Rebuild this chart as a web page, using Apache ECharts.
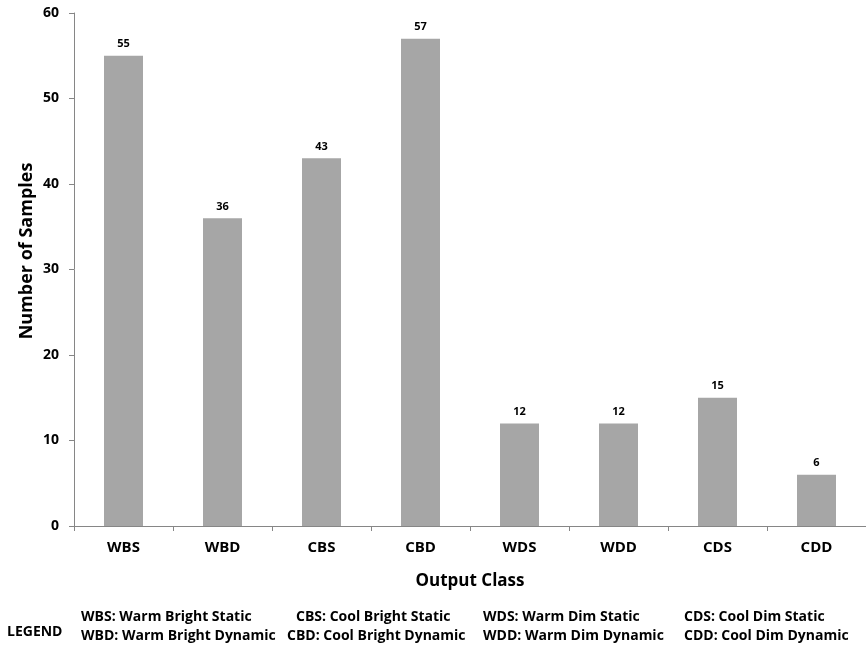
<!DOCTYPE html>
<html>
<head>
<meta charset="utf-8">
<script src="https://cdn.jsdelivr.net/npm/echarts@6/dist/echarts.min.js"></script>
<style>html,body{margin:0;padding:0;background:#fff}#c{width:866px;height:646px}</style>
</head>
<body>
<div id="c"></div>
<script>
var categories = ['WBS', 'WBD', 'CBS', 'CBD', 'WDS', 'WDD', 'CDS', 'CDD'];
var samples = [55, 36, 43, 57, 12, 12, 15, 6];
var yTicks = [0, 10, 20, 30, 40, 50, 60];
var legendRow1 = ['WBS: Warm Bright Static', 'CBS: Cool Bright Static', 'WDS: Warm Dim Static', 'CDS: Cool Dim Static'];
var legendRow2 = ['WBD: Warm Bright Dynamic', 'CBD: Cool Bright Dynamic', 'WDD: Warm Dim Dynamic', 'CDD: Cool Dim Dynamic'];

var FONT = '"Open Sans"';
var chart = echarts.init(document.getElementById('c'), null, {renderer: 'canvas'});
var row1X = [81, 296, 483, 684];
var row2X = [81, 287, 483, 684];
var graphics = [{
  type: 'text', x: 7, y: 632,
  style: {text: 'LEGEND', font: 'bold 14px ' + FONT, fill: '#000', verticalAlign: 'middle'}
}, {
  type: 'text', x: 27, y: 251, rotation: Math.PI / 2,
  style: {text: 'Number of Samples', font: 'bold 18px ' + FONT, fill: '#000', align: 'center', verticalAlign: 'middle'}
}];
legendRow1.forEach(function (t, i) {
  graphics.push({type: 'text', x: row1X[i], y: 617, style: {text: t, font: 'bold 14px ' + FONT, fill: '#000', verticalAlign: 'middle'}});
});
legendRow2.forEach(function (t, i) {
  graphics.push({type: 'text', x: row2X[i], y: 636, style: {text: t, font: 'bold 14px ' + FONT, fill: '#000', verticalAlign: 'middle'}});
});

chart.setOption({
  animation: false,
  grid: {left: 74, top: 13, width: 794, height: 513, containLabel: false},
  xAxis: {
    type: 'category',
    data: categories,
    name: 'Output Class',
    nameLocation: 'middle',
    nameGap: 47,
    nameTextStyle: {fontFamily: FONT, fontWeight: 'bold', fontSize: 17, color: '#000'},
    axisLine: {lineStyle: {color: '#868686', width: 1}},
    axisTick: {show: true, length: 5, lineStyle: {color: '#868686'}},
    axisLabel: {fontFamily: FONT, fontWeight: 'bold', fontSize: 15, color: '#000', margin: 14}
  },
  yAxis: {
    type: 'value',
    min: yTicks[0],
    max: yTicks[yTicks.length - 1],
    interval: 10,
    axisLine: {show: true, lineStyle: {color: '#868686', width: 1}},
    axisTick: {show: true, length: 5, lineStyle: {color: '#868686'}},
    splitLine: {show: false},
    axisLabel: {fontFamily: FONT, fontWeight: 'bold', fontSize: 14, color: '#000', margin: 15}
  },
  series: [{
    type: 'bar',
    data: samples,
    barWidth: 39,
    itemStyle: {color: '#a6a6a6'},
    label: {show: true, position: 'top', distance: 6, fontFamily: FONT, fontWeight: 'bold', fontSize: 11, color: '#000'}
  }],
  graphic: graphics
});
</script>
</body>
</html>
